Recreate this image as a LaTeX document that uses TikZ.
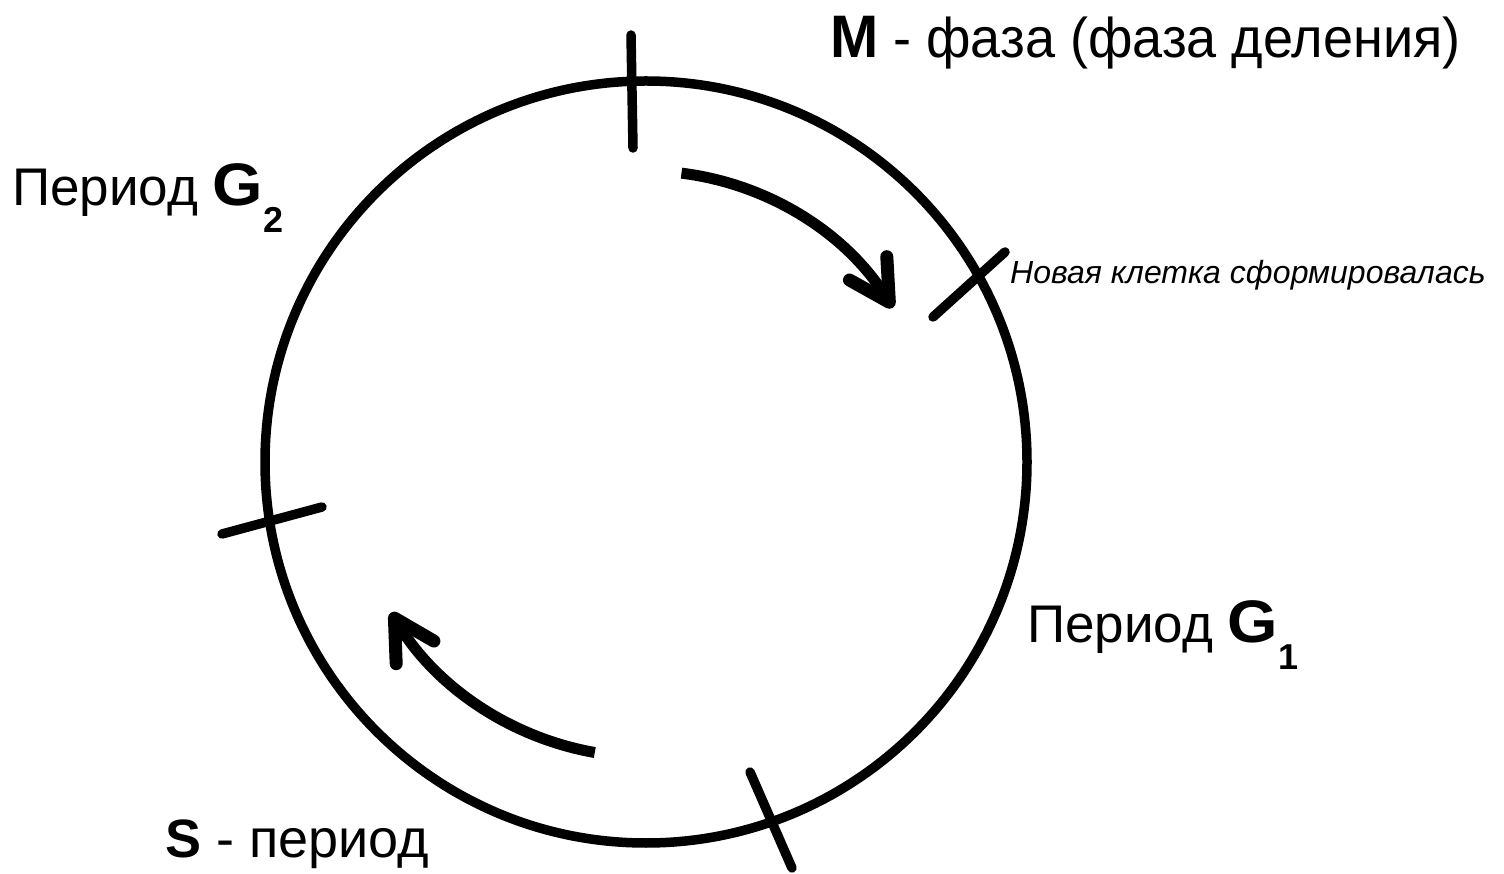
\documentclass[tikz,border=0pt]{standalone}
\usepackage{fontspec}
\setmainfont{Liberation Sans}
\usetikzlibrary{arrows.meta}
\tikzset{
  ring/.style={draw=black, line width=9.5pt, circle, minimum size=762pt, inner sep=0pt},
  tick/.style={draw=black, line width=9.5pt, line cap=round},
  cyclearrow/.style={draw=black, line width=11pt, line cap=butt,
    -{Straight Barb[length=40pt,width=44pt,line width=13pt,round]}},
  biglabel/.style={anchor=base west, inner sep=0pt, font=\fontsize{56}{60}\selectfont\addfontfeature{FakeStretch=0.965}},
  perlabel/.style={anchor=base west, inner sep=0pt, font=\fontsize{53}{58}\selectfont},
  smalllabel/.style={anchor=base west, inner sep=0pt, font=\fontsize{32}{35}\selectfont\itshape},
}
\newcommand{\bigG}{{\fontsize{60}{62}\selectfont\addfontfeature{FakeStretch=1.08}\bfseries G}}
\newcommand{\bigM}{{\fontsize{60}{62}\selectfont\bfseries M}}
\newcommand{\subidx}[1]{\raisebox{-27pt}{\fontsize{36}{38}\selectfont\bfseries #1}}
\begin{document}
\begin{tikzpicture}[x=1pt,y=1pt]
\useasboundingbox (0,0) rectangle (1504,873);
\fill[white] (0,0) rectangle (1504,873);
\node[ring] (cell) at (646,411) {};
% phase boundaries
\coordinate (mA) at (631,838); \coordinate (mB) at (633,725);
\coordinate (nA) at (933,556); \coordinate (nB) at (1005,621);
\coordinate (lA) at (222,339); \coordinate (lB) at (322,366);
\coordinate (bA) at (750,101); \coordinate (bB) at (792,5);
\draw[tick] (mA) -- (mB);
\draw[tick] (nA) -- (nB);
\draw[tick] (lA) -- (lB);
\draw[tick] (bA) -- (bB);
% direction arrows
\coordinate (a1) at ([shift={(83:291)}]cell.center);
\coordinate (a2) at ([shift={(260:295)}]cell.center);
\draw[cyclearrow] (a1) arc[start angle=83, end angle=32, radius=291];
\draw[cyclearrow] (a2) arc[start angle=260, end angle=211, radius=298];
% labels
\node[biglabel] (mlab) at (830,815) {\bigM{} - фаза (фаза деления)};
\node[perlabel] (g2lab) at (12,667) {Период \bigG\subidx{2}};
\node[smalllabel] (newlab) at (1010,589) {Новая клетка сформировалась};
\node[perlabel] (g1lab) at (1027,230) {Период \bigG\subidx{1}};
\node[biglabel, font=\fontsize{54}{58}\selectfont] (slab) at (165,16) {\textbf{S} - период};
\end{tikzpicture}
\end{document}
